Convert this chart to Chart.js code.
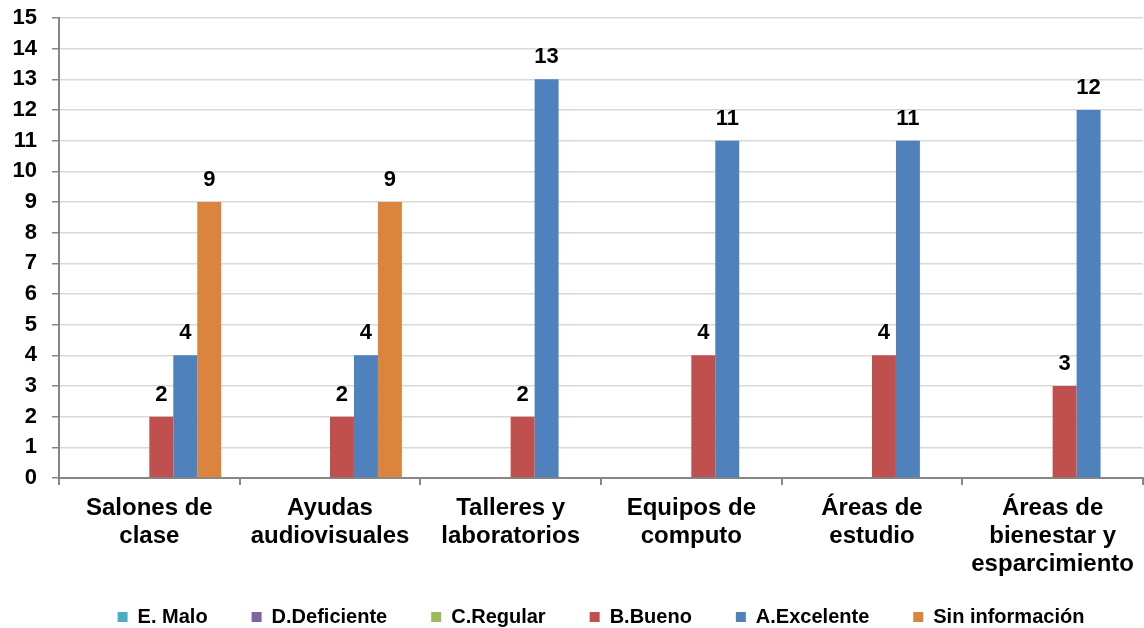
<!DOCTYPE html>
<html>
<head>
<meta charset="utf-8">
<script src="https://cdn.jsdelivr.net/npm/chart.js@4/dist/chart.umd.min.js"></script>
<style>
  html, body { margin: 0; padding: 0; background: #fff; }
  #wrap { width: 1144px; height: 628px; }
</style>
</head>
<body>
<div id="wrap"><canvas id="ChartHolder"></canvas></div>
<script>
// categories (multi-line labels as in the original)
var categories = [
    ['Salones de', 'clase'],
    ['Ayudas', 'audiovisuales'],
    ['Talleres y', 'laboratorios'],
    ['Equipos de', 'computo'],
    ['Áreas de', 'estudio'],
    ['Áreas de', 'bienestar y', 'esparcimiento']
];

var malo = [0, 0, 0, 0, 0, 0];
var deficiente = [0, 0, 0, 0, 0, 0];
var regular = [0, 0, 0, 0, 0, 0];
var bueno = [2, 2, 2, 4, 4, 3];
var excelente = [4, 4, 13, 11, 11, 12];
var sinInfo = [9, 9, 0, 0, 0, 0];

var yTicks = [0, 15];

var fontFamily = '"Liberation Sans", Arial, sans-serif';

// value labels on top of the bars (skip zeros) + legend box tweaks
var barLabels = {
    id: 'barLabels',
    afterInit: function (chart) {
        // legend padding is wide for spacing between items, keep its box short
        var lg = chart.legend;
        var origFit = lg.fit;
        lg.fit = function () {
            origFit.call(this);
            this.height = 50;
        };
    },
    afterLayout: function (chart) {
        var lg = chart.legend;
        lg.top = lg.bottom - 65;
    },
    afterDatasetsDraw: function (chart) {
        var c = chart.ctx;
        c.save();
        c.font = 'bold 22px ' + fontFamily;
        c.fillStyle = '#000';
        c.textAlign = 'center';
        c.textBaseline = 'alphabetic';
        chart.data.datasets.forEach(function (ds, i) {
            var meta = chart.getDatasetMeta(i);
            meta.data.forEach(function (bar, j) {
                var v = ds.data[j];
                if (!v) return;
                c.fillText(String(v), bar.x, bar.y - 16);
            });
        });
        c.restore();
    }
};

function mk(label, data, color) {
    return {
        label: label,
        data: data,
        backgroundColor: color,
        borderWidth: 0,
        categoryPercentage: 0.796,
        barPercentage: 1.0
    };
}

var ctx = document.getElementById('ChartHolder');

var chartConfig = {
    type: 'bar',
    data: {
        labels: categories,
        datasets: [
            mk('E. Malo', malo, '#4BACC6'),
            mk('D.Deficiente', deficiente, '#8064A2'),
            mk('C.Regular', regular, '#9BBB59'),
            mk('B.Bueno', bueno, '#C0504D'),
            mk('A.Excelente', excelente, '#4F81BD'),
            mk('Sin información', sinInfo, '#DB843D')
        ]
    },
    plugins: [barLabels],
    options: {
        responsive: true,
        maintainAspectRatio: false,
        animation: false,
        layout: {
            padding: { top: 18, left: 0, right: 0, bottom: 0 }
        },
        plugins: {
            tooltip: { enabled: false },
            legend: {
                position: 'bottom',
                fullSize: false,
                labels: {
                    boxWidth: 10,
                    boxHeight: 10,
                    padding: 44,
                    color: '#000',
                    font: { family: fontFamily, size: 20, weight: 'bold' }
                }
            }
        },
        scales: {
            x: {
                afterFit: function (scale) { scale.height = 100; },
                border: { color: '#868686', width: 2 },
                grid: {
                    offset: true,
                    drawOnChartArea: false,
                    drawTicks: true,
                    tickLength: 7,
                    color: '#868686',
                    lineWidth: 2
                },
                ticks: {
                    color: '#000',
                    padding: 10,
                    maxRotation: 0,
                    autoSkip: false,
                    font: { family: fontFamily, size: 24, weight: 'bold', lineHeight: 1.15 }
                }
            },
            y: {
                min: yTicks[0],
                max: yTicks[1],
                afterFit: function (scale) {
                    scale.width = 59;
                    scale.paddingTop = 0;
                },
                border: { color: '#868686', width: 2 },
                grid: {
                    color: '#d9d9d9',
                    lineWidth: 1.5,
                    tickColor: '#868686',
                    tickLength: 7
                },
                ticks: {
                    stepSize: 1,
                    color: '#000',
                    padding: 15,
                    font: { family: fontFamily, size: 22, weight: 'bold' }
                }
            }
        }
    }
};

var currentChart = new Chart(ctx, chartConfig);
</script>
</body>
</html>
